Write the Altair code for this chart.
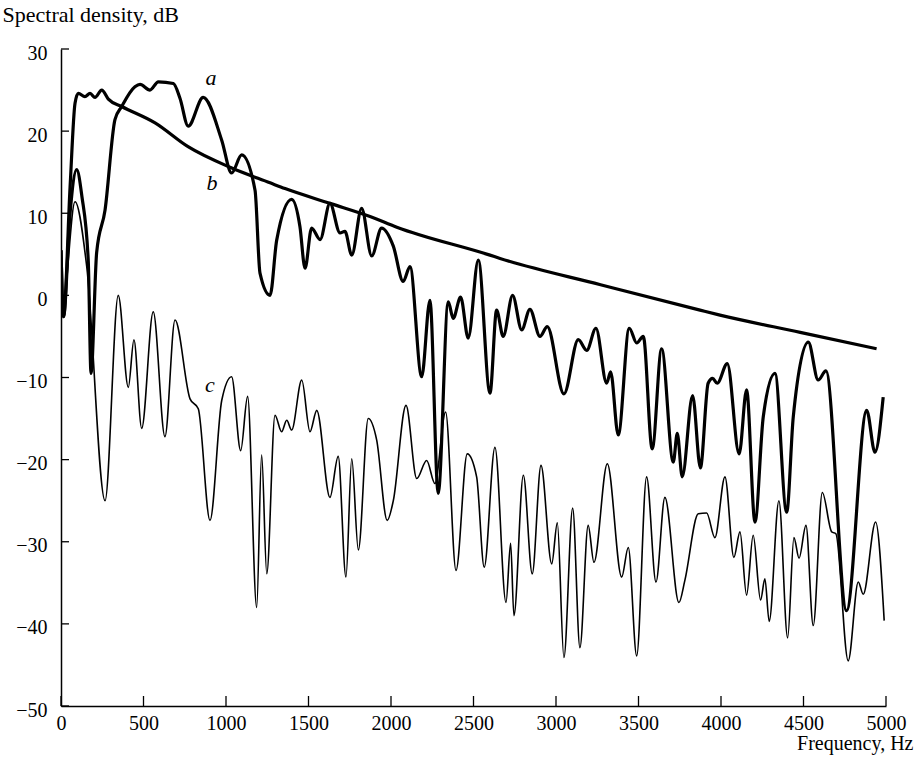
import altair as alt
import pandas as pd

# Curve a (thick, oscillating)
a_hz = [0, 15, 55, 95, 127, 165, 182, 216, 267, 327, 368, 448, 479, 539, 590, 681, 721, 771, 862, 974,
        1034, 1095, 1176, 1206, 1267, 1307, 1398, 1448, 1479, 1519, 1570, 1630, 1691, 1721, 1762, 1822,
        1883, 1943, 2014, 2074, 2115, 2186, 2236, 2286, 2347, 2377, 2422, 2468, 2529, 2600, 2640, 2680,
        2737, 2792, 2842, 2903, 2947, 3048, 3135, 3186, 3242, 3307, 3331, 3377, 3444, 3489, 3529, 3583,
        3640, 3711, 3735, 3765, 3828, 3875, 3922, 3949, 3977, 4038, 4110, 4155, 4206, 4256, 4327, 4398,
        4438, 4529, 4589, 4636, 4761, 4883, 4933, 4983]
a_db = [5.5, -2.6, 10.0, 15.3, 12.0, 4.3, -9.5, 5.2, 10.4, 21.4, 23.0, 25.4, 25.7, 25.0, 26.0, 25.8, 24.0,
        20.6, 24.1, 18.9, 14.9, 17.1, 12.8, 2.7, 0.0, 6.7, 11.7, 8.4, 3.3, 8.2, 6.8, 11.2, 7.6, 7.8, 4.9,
        10.6, 4.8, 8.2, 6.0, 1.7, 3.5, -9.9, -0.6, -24.1, -0.8, -2.8, -0.2, -5.2, 4.3, -11.9, -1.8, -5.0,
        0.0, -4.2, -1.7, -5.0, -3.8, -12.0, -5.4, -6.7, -4.0, -10.7, -9.3, -17.0, -4.0, -5.8, -5.0, -18.7,
        -6.5, -20.3, -16.8, -22.1, -12.2, -21.0, -10.7, -10.1, -10.7, -8.3, -19.3, -11.5, -27.6, -14.8,
        -9.5, -26.4, -14.8, -5.7, -10.3, -9.2, -38.4, -14.0, -19.1, -12.4]

# Curve b (thick, smooth decline)
b_hz = [0, 15, 55, 85, 105, 145, 176, 206, 247, 287, 368, 570, 770, 1035, 1267, 1358, 1630, 1873, 2035,
        2600, 2661, 3270, 3873, 3994, 4480, 4943]
b_db = [5.5, -2.6, 13.2, 23.4, 24.6, 24.2, 24.6, 24.1, 25.0, 23.9, 23.0, 21.0, 18.1, 15.5, 13.7, 13.0,
        11.2, 9.6, 8.3, 4.9, 4.5, 1.3, -1.8, -2.4, -4.5, -6.5]

# Curve c (thin)
c_hz = [0, 24, 85, 156, 267, 347, 408, 442, 489, 559, 630, 691, 782, 832, 903, 974, 1034, 1089, 1131,
        1186, 1216, 1247, 1297, 1337, 1368, 1398, 1459, 1509, 1550, 1630, 1680, 1727, 1762, 1802, 1862,
        1913, 1977, 2014, 2091, 2156, 2216, 2266, 2331, 2394, 2462, 2519, 2565, 2630, 2697, 2725, 2745,
        2802, 2856, 2909, 2974, 3008, 3048, 3101, 3145, 3195, 3230, 3311, 3398, 3438, 3489, 3549, 3606,
        3660, 3745, 3781, 3862, 3913, 3963, 4024, 4078, 4115, 4155, 4195, 4240, 4266, 4292, 4351, 4404,
        4442, 4473, 4515, 4559, 4614, 4671, 4696, 4771, 4832, 4862, 4937, 4989]
c_db = [-3.0, 0.0, 11.4, 3.5, -25.0, 0.0, -11.2, -5.4, -16.2, -2.0, -17.2, -3.0, -12.6, -13.8, -27.4,
        -12.8, -9.9, -18.9, -12.3, -38.0, -19.4, -33.9, -14.6, -16.6, -15.2, -16.4, -10.3, -16.6, -14.0,
        -24.6, -19.6, -34.3, -19.9, -31.0, -15.0, -17.6, -27.4, -25.0, -13.4, -22.3, -20.1, -22.9, -14.2,
        -33.5, -19.3, -22.1, -33.1, -18.5, -37.4, -30.2, -39.0, -21.9, -33.9, -20.7, -32.7, -27.7, -44.1,
        -25.9, -42.9, -28.0, -32.5, -20.5, -34.3, -30.7, -43.9, -22.1, -34.9, -24.6, -37.4, -34.7, -26.6,
        -26.5, -29.5, -22.1, -31.9, -28.8, -36.5, -29.2, -37.1, -34.5, -39.7, -25.0, -41.7, -29.5, -32.0,
        -28.0, -40.2, -24.0, -28.8, -29.0, -44.5, -34.9, -36.4, -27.6, -39.6]

labels = ["a", "b", "c"]
label_hz = [909, 915, 903]
label_db = [26.5, 13.7, -10.9]

x_ticks = [0, 500, 1000, 1500, 2000, 2500, 3000, 3500, 4000, 4500, 5000]
y_ticks = [30, 20, 10, 0, -10, -20, -30, -40, -50]

W, H = 825, 657
FONT = "Liberation Serif"

xs = alt.Scale(domain=[0, 5000], nice=False, zero=False)
ys = alt.Scale(domain=[-50, 30], nice=False, zero=False)

x_axis = alt.Axis(values=x_ticks, format="d", ticks=False, grid=False, labelPadding=7, labelFontSize=20,
                  labelFont=FONT, labelColor="black", domainColor="black", domainWidth=1.5,
                  title="Frequency, Hz", titleFont=FONT, titleFontSize=20, titleFontWeight="normal",
                  titleColor="black", titleAlign="right", titleX=W + 27, titleY=43,
                  titleBaseline="alphabetic", labelFlush=False)
y_axis = alt.Axis(values=y_ticks, format="d", ticks=False, grid=False, labelPadding=14, labelFontSize=20,
                  labelFont=FONT, labelColor="black", domainColor="black", domainWidth=1.5,
                  title="Spectral density, dB", titleFont=FONT, titleFontSize=22,
                  titleFontWeight="normal", titleColor="black", titleAngle=0, titleAlign="left",
                  titleX=-59, titleY=-28, titleBaseline="alphabetic", labelFlush=False,
                  labelBaseline="middle", labelOffset=4)


def line(hz, db, width):
    df = pd.DataFrame({"hz": hz, "db": db})
    return alt.Chart(df).mark_line(color="black", strokeWidth=width, interpolate="monotone",
                                   clip=True).encode(
        x=alt.X("hz:Q", scale=xs, axis=x_axis),
        y=alt.Y("db:Q", scale=ys, axis=y_axis),
    )


la = line(a_hz, a_db, 3.2)
lb = line(b_hz, b_db, 3.2)
lc = line(c_hz, c_db, 1.6)

lab_df = pd.DataFrame({"t": labels, "hz": label_hz, "db": label_db})
lab = alt.Chart(lab_df).mark_text(font=FONT, fontSize=22, fontStyle="italic", color="black",
                                  align="center", baseline="middle").encode(
    x=alt.X("hz:Q", scale=xs), y=alt.Y("db:Q", scale=ys), text="t:N")

yt = alt.Chart(pd.DataFrame({"v": y_ticks})).mark_rule(color="black", strokeWidth=1.3).encode(
    y=alt.Y("v:Q", scale=ys), x=alt.value(0), x2=alt.value(8))
xt = alt.Chart(pd.DataFrame({"v": x_ticks})).mark_rule(color="black", strokeWidth=1.3).encode(
    x=alt.X("v:Q", scale=xs), y=alt.value(H), y2=alt.value(H - 10))

chart = alt.layer(lc, lb, la, lab, yt, xt).properties(
    width=W, height=H,
    autosize=alt.AutoSizeParams(type="none"),
    padding={"left": 61, "top": 49, "right": 29, "bottom": 60},
    background="white",
).configure_view(stroke=None)

chart.save("out.html", embed_options={"renderer": "svg", "actions": False})
